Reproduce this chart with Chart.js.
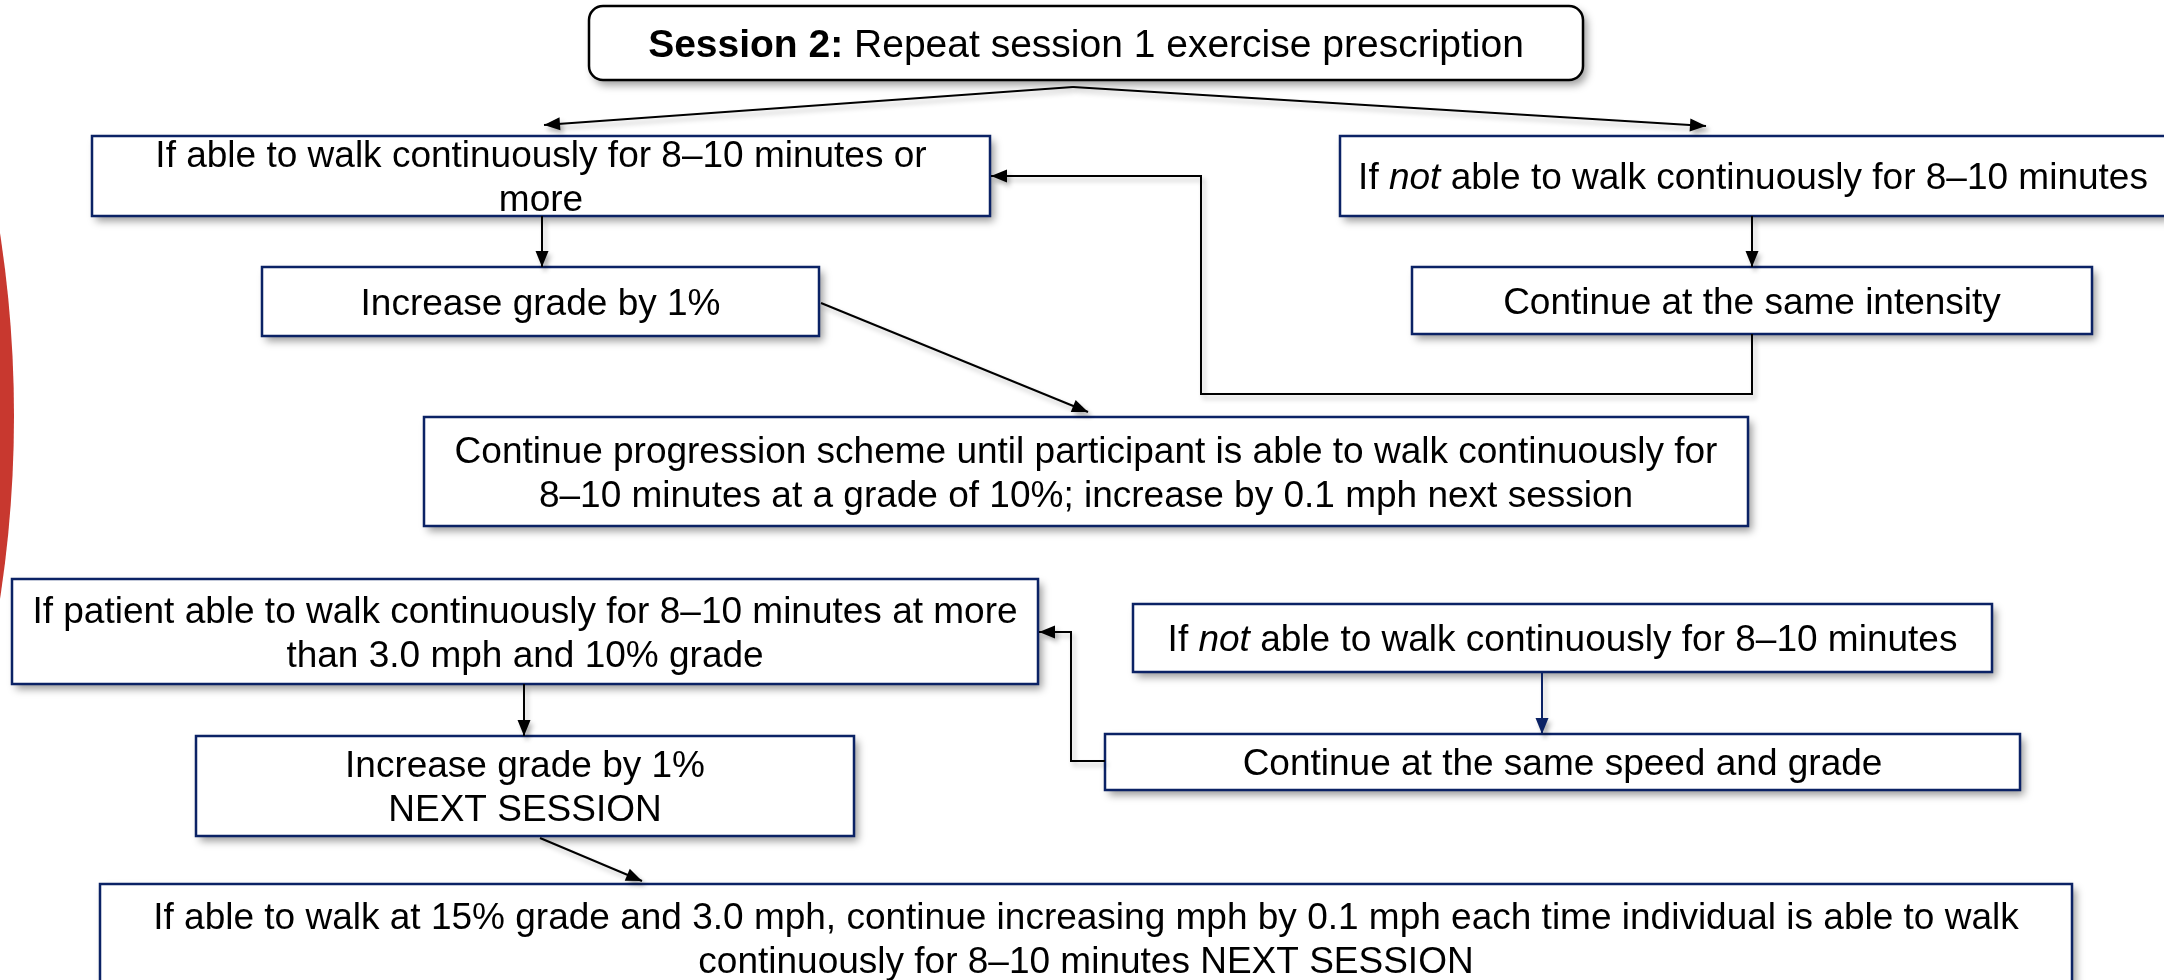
<!DOCTYPE html>
<html>
<head>
<meta charset="utf-8">
<title>Session 2 progression</title>
<script src="https://cdn.jsdelivr.net/npm/chart.js@4.4.1/dist/chart.umd.min.js"></script>
<style>
    html, body { margin: 0; padding: 0; background: #fff; }
    canvas { display: block; }
</style>
</head>
<body>
<canvas id="flow" width="2164" height="980"></canvas>
<script>
// Box labels: one entry per line, a line is either plain text or a list of [text, style] runs
const boxLabels = [
    [[['Session 2:', 'bold'], [' Repeat session 1 exercise prescription', '']]],
    ['If able to walk continuously for 8\u201310 minutes or', 'more'],
    ['Increase grade by 1%'],
    ['Continue progression scheme until participant is able to walk continuously for',
     '8\u201310 minutes at a grade of 10%; increase by 0.1 mph next session'],
    [[['If ', ''], ['not', 'italic'], [' able to walk continuously for 8\u201310 minutes', '']]],
    ['Continue at the same intensity'],
    ['If patient able to walk continuously for 8\u201310 minutes at more', 'than 3.0 mph and 10% grade'],
    ['Increase grade by 1%', 'NEXT SESSION'],
    ['If able to walk at 15% grade and 3.0 mph, continue increasing mph by 0.1 mph each time individual is able to walk',
     'continuously for 8\u201310 minutes NEXT SESSION'],
    [[['If ', ''], ['not', 'italic'], [' able to walk continuously for 8\u201310 minutes', '']]],
    ['Continue at the same speed and grade']
];

// Box frames (page units, y grows downwards)
const boxLeft   = [589, 92, 262, 424, 1340, 1412, 12, 196, 100, 1133, 1105];
const boxTop    = [6, 136, 267, 417, 136, 267, 579, 736, 884, 604, 734];
const boxRight  = [1583, 990, 819, 1748, 2166, 2092, 1038, 854, 2072, 1992, 2020];
const boxBottom = [80, 216, 336, 526, 216, 334, 684, 836, 992, 672, 790];

// Connector paths, last point is the arrow tip
const linkX = [
    [1073, 544], [1073, 1706], [542, 542], [821, 1088], [1752, 1752],
    [1752, 1752, 1201, 1201, 991], [524, 524], [540, 642], [1542, 1542],
    [1105, 1071, 1071, 1039]
];
const linkY = [
    [87, 125], [87, 126], [216, 267], [303, 412], [216, 267],
    [334, 394, 394, 176, 176], [684, 736], [838, 881], [672, 734],
    [761, 761, 632, 632]
];

const NAVY = '#0b2265';
const FONT = '"Liberation Sans", Arial, sans-serif';

/**
 * Build one line dataset per connector
 */
function buildLinks() {
    return linkX.map((xs, i) => ({
        data: xs.map((x, j) => ({ x: x, y: linkY[i][j] })),
        showLine: true,
        borderColor: i === 8 ? NAVY : '#000',
        borderWidth: 2,
        pointRadius: 0,
        tension: 0,
        fill: false
    }));
}

/**
 * Draw a box label, centered, with styled runs
 */
function drawLabel(ctx, lines, cx, cy, size, lineGap) {
    const n = lines.length;
    ctx.fillStyle = '#000';
    ctx.textAlign = 'left';
    ctx.textBaseline = 'alphabetic';

    lines.forEach((line, k) => {
        const runs = typeof line === 'string' ? [[line, '']] : line;
        let total = 0;
        runs.forEach(r => {
            ctx.font = (r[1] ? r[1] + ' ' : '') + size + 'px ' + FONT;
            total += ctx.measureText(r[0]).width;
        });
        let x = cx - total / 2;
        const y = cy + (k - (n - 1) / 2) * lineGap + size * 0.36;
        runs.forEach(r => {
            ctx.font = (r[1] ? r[1] + ' ' : '') + size + 'px ' + FONT;
            ctx.fillText(r[0], x, y);
            x += ctx.measureText(r[0]).width;
        });
    });
}

function roundRect(ctx, x, y, w, h, r) {
    ctx.beginPath();
    ctx.moveTo(x + r, y);
    ctx.arcTo(x + w, y, x + w, y + h, r);
    ctx.arcTo(x + w, y + h, x, y + h, r);
    ctx.arcTo(x, y + h, x, y, r);
    ctx.arcTo(x, y, x + w, y, r);
    ctx.closePath();
}

const flowPlugin = {
    id: 'flowBoxes',

    beforeDraw(chart) {
        const ctx = chart.ctx;
        const sx = chart.scales.x;
        const sy = chart.scales.y;

        // red arc on the left edge
        ctx.save();
        ctx.fillStyle = '#c8382f';
        ctx.beginPath();
        const cx = sx.getPixelForValue(-1189);
        const cy = sy.getPixelForValue(416);
        const r = sx.getPixelForValue(1203) - sx.getPixelForValue(0);
        ctx.arc(cx, cy, r, 0, Math.PI * 2);
        ctx.fill();
        ctx.restore();
    },

    beforeDatasetsDraw(chart) {
        const ctx = chart.ctx;
        const sx = chart.scales.x;
        const sy = chart.scales.y;

        boxLeft.forEach((l, i) => {
            const x0 = sx.getPixelForValue(l);
            const x1 = sx.getPixelForValue(boxRight[i]);
            const y0 = sy.getPixelForValue(boxTop[i]);
            const y1 = sy.getPixelForValue(boxBottom[i]);

            ctx.save();
            ctx.shadowColor = 'rgba(0,0,0,0.4)';
            ctx.shadowBlur = 8;
            ctx.shadowOffsetX = 4;
            ctx.shadowOffsetY = 5;
            ctx.fillStyle = '#fff';
            if (i === 0) {
                roundRect(ctx, x0, y0, x1 - x0, y1 - y0, 14);
            } else {
                ctx.beginPath();
                ctx.rect(x0, y0, x1 - x0, y1 - y0);
            }
            ctx.fill();
            ctx.shadowColor = 'transparent';
            ctx.lineWidth = 2.5;
            ctx.strokeStyle = i === 0 ? '#000' : NAVY;
            ctx.stroke();
            ctx.restore();
        });

        // soft shadow under the connectors
        ctx.save();
        ctx.shadowColor = 'rgba(0,0,0,0.25)';
        ctx.shadowBlur = 5;
        ctx.shadowOffsetX = 3;
        ctx.shadowOffsetY = 4;
    },

    afterDatasetsDraw(chart) {
        const ctx = chart.ctx;
        const sx = chart.scales.x;
        const sy = chart.scales.y;

        // arrow heads at the end of each connector
        chart.data.datasets.forEach((ds, i) => {
            const pts = chart.getDatasetMeta(i).data;
            const tip = pts[pts.length - 1];
            const prev = pts[pts.length - 2];
            const a = Math.atan2(tip.y - prev.y, tip.x - prev.x);
            const len = 16;
            const half = 6.5;
            ctx.fillStyle = ds.borderColor;
            ctx.beginPath();
            ctx.moveTo(tip.x, tip.y);
            ctx.lineTo(tip.x - len * Math.cos(a) + half * Math.sin(a), tip.y - len * Math.sin(a) - half * Math.cos(a));
            ctx.lineTo(tip.x - len * Math.cos(a) - half * Math.sin(a), tip.y - len * Math.sin(a) + half * Math.cos(a));
            ctx.closePath();
            ctx.fill();
        });
        ctx.restore();

        // box texts
        boxLabels.forEach((lines, i) => {
            const cx = (sx.getPixelForValue(boxLeft[i]) + sx.getPixelForValue(boxRight[i])) / 2;
            const cy = (sy.getPixelForValue(boxTop[i]) + sy.getPixelForValue(boxBottom[i])) / 2;
            drawLabel(ctx, lines, cx, cy, i === 0 ? 39 : 37, 44);
        });
    }
};

new Chart(document.getElementById('flow'), {
    type: 'scatter',
    data: { datasets: buildLinks() },
    options: {
        responsive: false,
        animation: false,
        devicePixelRatio: 1,
        layout: { padding: 0 },
        plugins: {
            legend: { display: false },
            tooltip: { enabled: false }
        },
        scales: {
            x: { type: 'linear', min: 0, max: 2164, display: false },
            y: { type: 'linear', min: 0, max: 980, reverse: true, display: false }
        }
    },
    plugins: [flowPlugin]
});
</script>
</body>
</html>
